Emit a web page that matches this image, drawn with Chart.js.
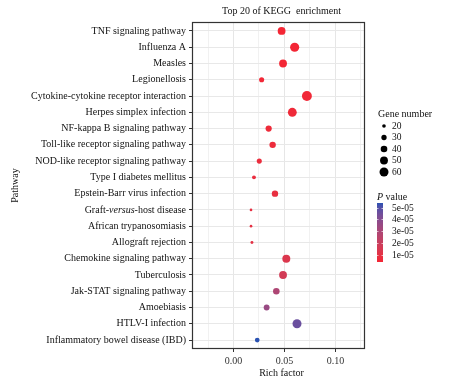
<!DOCTYPE html>
<html>
<head>
<meta charset="utf-8">
<script src="https://cdn.jsdelivr.net/npm/chart.js@4.4.0/dist/chart.umd.min.js"></script>
<style>
html,body{margin:0;padding:0;background:#fff;}
#wrap{width:451px;height:382px;position:relative;}
</style>
</head>
<body>
<div id="wrap"><canvas id="c" width="451" height="382"></canvas></div>
<script>
const pathways = [
  "TNF signaling pathway","Influenza A","Measles","Legionellosis",
  "Cytokine-cytokine receptor interaction","Herpes simplex infection",
  "NF-kappa B signaling pathway","Toll-like receptor signaling pathway",
  "NOD-like receptor signaling pathway","Type I diabetes mellitus",
  "Epstein-Barr virus infection","Graft-versus-host disease",
  "African trypanosomiasis","Allograft rejection","Chemokine signaling pathway",
  "Tuberculosis","Jak-STAT signaling pathway","Amoebiasis","HTLV-I infection",
  "Inflammatory bowel disease (IBD)"
];
const richFactor = [0.0472,0.0600,0.0486,0.0276,0.0720,0.0577,0.0345,0.0384,0.0253,0.0201,
                    0.0407,0.0172,0.0172,0.0181,0.0518,0.0486,0.0420,0.0325,0.0623,0.0233];
const geneNumber = [40,49,40,24,55,47,30,31,24,18,31,13,13,14,41,40,32,28,48,22];
const pValue = [4.1e-6,4.3e-6,4.6e-6,5.0e-6,5.4e-6,5.9e-6,6.3e-6,6.9e-6,7.4e-6,8.0e-6,
                8.6e-6,9.3e-6,9.9e-6,1.05e-5,1.35e-5,1.7e-5,2.9e-5,3.5e-5,4.6e-5,5.38e-5];
const xTickValues = [-0.025,0,0.025,0.05,0.075,0.1,0.125];
const xTickLabels = {"0":"0.00","0.05":"0.05","0.1":"0.10"};
const sizeLegendValues = [20,30,40,50,60];
const pLegendValues = [5e-5,4e-5,3e-5,2e-5,1e-5];
const pLegendLabels = ["5e-05","4e-05","3e-05","2e-05","1e-05"];

const FONT = "'Liberation Serif','Times New Roman',serif";
const pMin = Math.min(...pValue), pMax = Math.max(...pValue);
const LOW = [244,38,52], HIGH = [42,82,178];

function srgb2lin(c){c/=255;return c<=0.04045?c/12.92:Math.pow((c+0.055)/1.055,2.4);}
function lin2srgb(c){c=c<=0.0031308?12.92*c:1.055*Math.pow(c,1/2.4)-0.055;return Math.round(Math.max(0,Math.min(1,c))*255);}
function toLab(rgb){
  const r=srgb2lin(rgb[0]),g=srgb2lin(rgb[1]),b=srgb2lin(rgb[2]);
  let X=(r*0.4124+g*0.3576+b*0.1805)/0.95047,Y=(r*0.2126+g*0.7152+b*0.0722),Z=(r*0.0193+g*0.1192+b*0.9505)/1.08883;
  const f=t=>t>0.008856?Math.cbrt(t):7.787*t+16/116;
  const fx=f(X),fy=f(Y),fz=f(Z);
  return [116*fy-16,500*(fx-fy),200*(fy-fz)];
}
function fromLab(lab){
  const fy=(lab[0]+16)/116,fx=fy+lab[1]/500,fz=fy-lab[2]/200;
  const fi=t=>t*t*t>0.008856?t*t*t:(t-16/116)/7.787;
  const X=fi(fx)*0.95047,Y=fi(fy),Z=fi(fz)*1.08883;
  const r=X*3.2406+Y*-1.5372+Z*-0.4986,g=X*-0.9689+Y*1.8758+Z*0.0415,b=X*0.0557+Y*-0.2040+Z*1.0570;
  return [lin2srgb(r),lin2srgb(g),lin2srgb(b)];
}
const LOWLAB=toLab(LOW),HIGHLAB=toLab(HIGH);
function colorFor(p){
  const t=Math.max(0,Math.min(1,(p-pMin)/(pMax-pMin)));
  const lab=[0,1,2].map(i=>LOWLAB[i]+(HIGHLAB[i]-LOWLAB[i])*t);
  const c=fromLab(lab);
  return `rgb(${c[0]},${c[1]},${c[2]})`;
}
function radiusFor(n){ return 1.2 + 0.95*(Math.sqrt(n)-Math.sqrt(12)); }

const points = pathways.map((p,i)=>({x:richFactor[i], y:i, r:radiusFor(geneNumber[i])}));
const ITALIC_LABEL = "Graft-versus-host disease";

const decor = {
  id:'decor',
  beforeDatasetsDraw(chart){
    const {ctx, chartArea:a} = chart;
    ctx.save();
    ctx.strokeStyle='#333'; ctx.lineWidth=1.2;
    ctx.strokeRect(a.left+0.5,a.top+0.5,a.right-a.left-1,a.bottom-a.top-1);
    ctx.restore();
  },
  afterDraw(chart){
    const {ctx, chartArea:a} = chart;
    const ys = chart.scales.y;
    ctx.save();
    ctx.fillStyle='#111';
    ctx.textBaseline='middle';
    {
      const i = pathways.indexOf(ITALIC_LABEL);
      const y = ys.getPixelForValue(i);
      const parts=[["Graft-",""],["versus","italic "],["-host disease",""]];
      let total=0;
      parts.forEach(p=>{ctx.font=`${p[1]}10px ${FONT}`; total+=ctx.measureText(p[0]).width;});
      let x=a.left-6-total;
      ctx.textAlign='left';
      parts.forEach(p=>{ctx.font=`${p[1]}10px ${FONT}`; ctx.fillText(p[0],x,y); x+=ctx.measureText(p[0]).width;});
    }
    ctx.font=`10px ${FONT}`; ctx.textAlign='center';
    ctx.fillText('Top 20 of KEGG  enrichment',(a.left+a.right)/2+3,11);
    ctx.fillText('Rich factor',(a.left+a.right)/2+3,373);
    ctx.save(); ctx.translate(15,(a.top+a.bottom)/2); ctx.rotate(-Math.PI/2);
    ctx.fillText('Pathway',0,0); ctx.restore();
    ctx.textAlign='left';
    ctx.fillText('Gene number',378,114);
    sizeLegendValues.forEach((v,i)=>{
      const y=126+i*11.5;
      ctx.beginPath(); ctx.arc(384,y,radiusFor(v)*0.85,0,Math.PI*2); ctx.fillStyle='#000'; ctx.fill();
      ctx.fillStyle='#111'; ctx.font=`9.5px ${FONT}`;
      ctx.fillText(String(v),392,y);
    });
    ctx.font=`italic 10px ${FONT}`;
    ctx.fillText('P',377,197);
    const pw=ctx.measureText('P').width;
    ctx.font=`10px ${FONT}`;
    ctx.fillText(' value',377+pw,197);
    const barTop=203, barBot=262, bx=377, bw=6;
    const grad=ctx.createLinearGradient(0,barTop,0,barBot);
    for(let s=0;s<=20;s++){
      grad.addColorStop(s/20, colorFor(pMax-(pMax-pMin)*s/20));
    }
    ctx.fillStyle=grad;
    ctx.fillRect(bx,barTop,bw,barBot-barTop);
    ctx.font=`9.5px ${FONT}`;
    pLegendValues.forEach((v,i)=>{
      const y=Math.round(barBot-(v-pMin)/(pMax-pMin)*(barBot-barTop))+0.5;
      ctx.strokeStyle='rgba(255,255,255,0.8)'; ctx.lineWidth=0.8;
      ctx.beginPath(); ctx.moveTo(bx,y); ctx.lineTo(bx+1.5,y); ctx.moveTo(bx+bw-1.5,y); ctx.lineTo(bx+bw,y); ctx.stroke();
      ctx.fillStyle='#111';
      ctx.fillText(pLegendLabels[i],392,y);
    });
    ctx.restore();
  }
};

new Chart(document.getElementById('c'),{
  type:'bubble',
  data:{datasets:[{
    data:points,
    backgroundColor:pValue.map(colorFor),
    borderWidth:0,
    hoverRadius:0
  }]},
  options:{
    responsive:false,
    animation:false,
    events:[],
    layout:{padding:{left:0,right:86,top:22,bottom:0}},
    plugins:{legend:{display:false},tooltip:{enabled:false},title:{display:false}},
    scales:{
      x:{
        type:'linear', min:-0.0407, max:0.129,
        afterBuildTicks(s){ s.ticks = xTickValues.map(v=>({value:v})); },
        afterFit(s){ s.height = 33; },
        ticks:{
          autoSkip:false, maxRotation:0, padding:3, color:'#333',
          font:{family:FONT,size:10},
          callback(v){ const k=String(Math.round(v*1000)/1000); return xTickLabels[k]||''; }
        },
        grid:{
          color:(c)=>{ const v=c.tick?c.tick.value:0; return Math.abs(Math.round(v*1000)%50)===0?'#e6e6e6':'#f1f1f1'; },
          lineWidth:1, tickLength:3,
          tickColor:(c)=>{ const v=c.tick?c.tick.value:0; return Math.abs(Math.round(v*1000)%50)===0?'#333':'rgba(0,0,0,0)'; }
        },
        border:{display:false}
      },
      y:{
        type:'linear', reverse:true, min:-0.55, max:19.55,
        afterBuildTicks(s){ s.ticks = pathways.map((p,i)=>({value:i})); },
        afterFit(s){ s.width = 192; },
        ticks:{
          autoSkip:false, padding:3, color:'#111',
          font:{family:FONT,size:10},
          callback(v){ return pathways[v]===ITALIC_LABEL ? '' : pathways[v]; }
        },
        grid:{color:'#e8e8e8', lineWidth:1, tickLength:3, tickColor:'#333'},
        border:{display:false}
      }
    }
  },
  plugins:[decor]
});
</script>
</body>
</html>
